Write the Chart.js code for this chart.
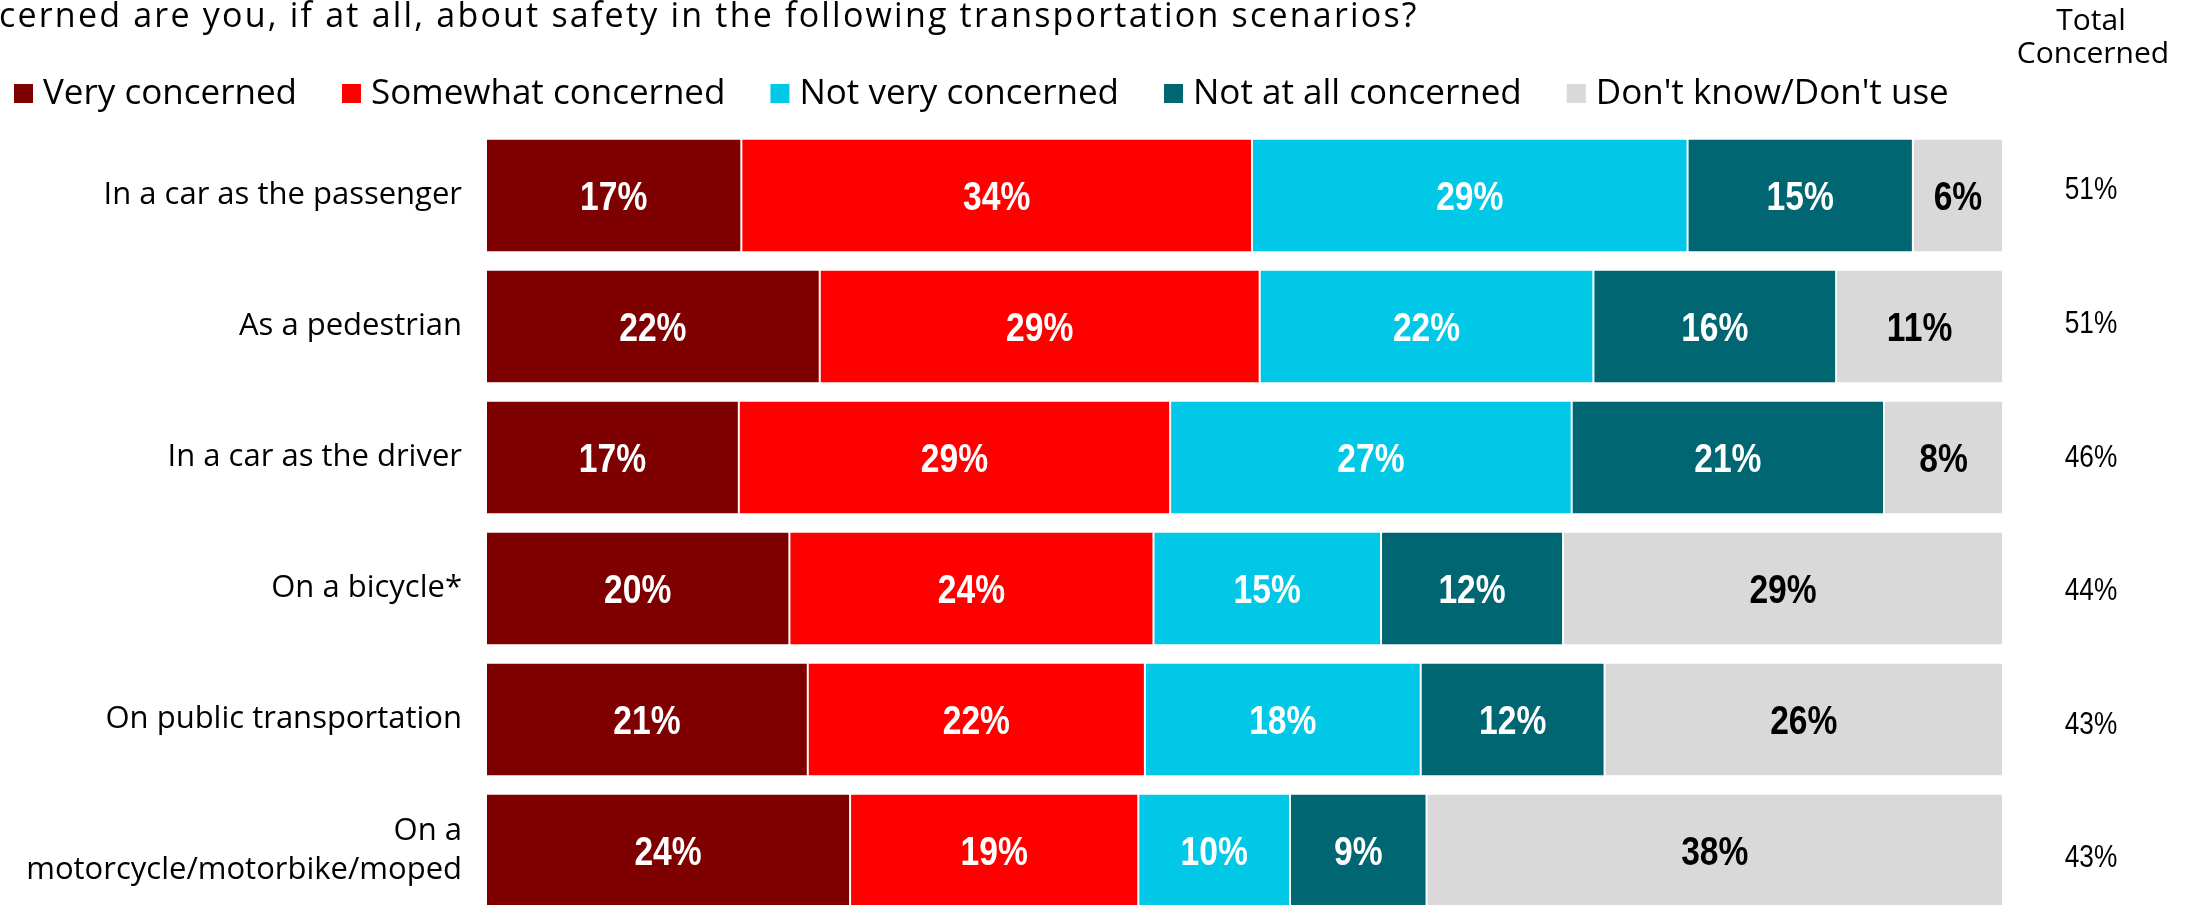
<!DOCTYPE html>
<html>
<head>
<meta charset="utf-8">
<script src="https://cdn.jsdelivr.net/npm/chart.js@4.4.1/dist/chart.umd.min.js"></script>
<style>
  html, body { margin: 0; padding: 0; background: #ffffff; overflow: hidden; }
  #wrap { position: relative; width: 2200px; height: 916px; }
</style>
</head>
<body>
<div id="wrap"><canvas id="chart" width="2200" height="916"></canvas></div>
<script>
// ---- Data ----
const questionText = "cerned are you, if at all, about safety in the following transportation scenarios?";
const categories = [
  "In a car as the passenger",
  "As a pedestrian",
  "In a car as the driver",
  "On a bicycle*",
  "On public transportation",
  ["On a", "motorcycle/motorbike/moped"]
];
const seriesNames = ["Very concerned", "Somewhat concerned", "Not very concerned", "Not at all concerned", "Don't know/Don't use"];
const veryConcerned     = [17, 22, 17, 20, 21, 24];
const somewhatConcerned = [34, 29, 29, 24, 22, 19];
const notVeryConcerned  = [29, 22, 27, 15, 18, 10];
const notAtAllConcerned = [15, 16, 21, 12, 12, 9];
const dontKnowDontUse   = [6, 11, 8, 29, 26, 38];
const totalConcerned    = [51, 51, 46, 44, 43, 43];
const totalHeader = ["Total", "Concerned"];

// ---- Styles ----
const seriesColors = ["#7f0000", "#ff0000", "#00c8e6", "#006672", "#d9d9d9"];
const labelColors = ["#ffffff", "#ffffff", "#ffffff", "#ffffff", "#000000"];
const SANS = '"Open Sans", "Noto Sans", sans-serif';
const ARIAL = '"Liberation Sans", Arial, sans-serif';
const NARROW_SCALE = 0.82;

const rawSeries = [veryConcerned, somewhatConcerned, notVeryConcerned, notAtAllConcerned, dontKnowDontUse];
const rowSums = categories.map((_, j) => rawSeries.reduce((s, arr) => s + arr[j], 0));

const datasets = rawSeries.map((arr, i) => ({
  label: seriesNames[i],
  data: arr.map((v, j) => v / rowSums[j] * 100),
  raw: arr,
  backgroundColor: seriesColors[i],
  borderColor: 'rgba(255,255,255,0.25)',
  borderWidth: 1,
  borderSkipped: false,
  categoryPercentage: 1.0,
  barPercentage: 0.867
}));

function narrowText(ctx, text, x, y) {
  ctx.save();
  ctx.translate(x, y);
  ctx.scale(NARROW_SCALE, 1);
  ctx.fillText(text, 0, 0);
  ctx.restore();
}

const overlayPlugin = {
  id: 'overlay',
  afterDatasetsDraw(chart) {
    const ctx = chart.ctx;
    ctx.save();
    const fs = 41;
    ctx.font = 'bold ' + fs + 'px ' + ARIAL;
    ctx.textAlign = 'center';
    ctx.textBaseline = 'alphabetic';
    chart.data.datasets.forEach((ds, i) => {
      const meta = chart.getDatasetMeta(i);
      meta.data.forEach((el, j) => {
        const cx = (el.x + el.base) / 2;
        ctx.fillStyle = labelColors[i];
        narrowText(ctx, ds.raw[j] + '%', cx, el.y + fs * 0.716 / 2);
      });
    });
    const yScale = chart.scales.y;
    const colX = 2091;
    const tfs = 32;
    ctx.font = tfs + 'px ' + ARIAL;
    ctx.fillStyle = '#000000';
    totalConcerned.forEach((v, j) => {
      const y = yScale.getPixelForValue(j) - 7.5 + 2.6 * j;
      narrowText(ctx, v + '%', colX, y + tfs * 0.716 / 2);
    });
    ctx.restore();
  },
  afterDraw(chart) {
    const ctx = chart.ctx;
    ctx.save();
    ctx.fillStyle = '#000000';
    ctx.textBaseline = 'alphabetic';
    ctx.textAlign = 'left';
    ctx.font = '34px ' + SANS;
    ctx.letterSpacing = '2.2px';
    ctx.fillText(questionText, -1, 27);
    ctx.letterSpacing = '0px';
    ctx.font = '35px ' + SANS;
    let x = 14;
    chart.data.datasets.forEach((ds) => {
      ctx.fillStyle = ds.backgroundColor;
      ctx.fillRect(x, 84, 19, 19);
      ctx.fillStyle = '#000000';
      ctx.fillText(ds.label, x + 29, 104);
      x += 29 + ctx.measureText(ds.label).width + 45;
    });
    ctx.textAlign = 'center';
    ctx.font = '30px ' + SANS;
    ctx.fillText(totalHeader[0], 2091, 30);
    ctx.fillText(totalHeader[1], 2093, 63);
    ctx.restore();
  }
};

new Chart(document.getElementById('chart'), {
  type: 'bar',
  data: { labels: categories, datasets },
  options: {
    indexAxis: 'y',
    responsive: false,
    devicePixelRatio: 1,
    animation: false,
    layout: { padding: { top: 130, right: 197, bottom: 0, left: 0 } },
    plugins: { legend: { display: false }, title: { display: false }, tooltip: { enabled: false } },
    scales: {
      x: { stacked: true, min: 0, max: 100, display: false },
      y: {
        stacked: true,
        grid: { display: false, drawTicks: false },
        border: { display: false },
        ticks: {
          color: '#000000',
          padding: 24,
          font: { family: SANS, size: 31, lineHeight: 1.26 }
        },
        afterFit(scale) {
          scale.width = 486;
          scale.paddingTop = 0;
          scale.paddingBottom = 0;
        }
      }
    }
  },
  plugins: [overlayPlugin]
});
</script>
</body>
</html>
